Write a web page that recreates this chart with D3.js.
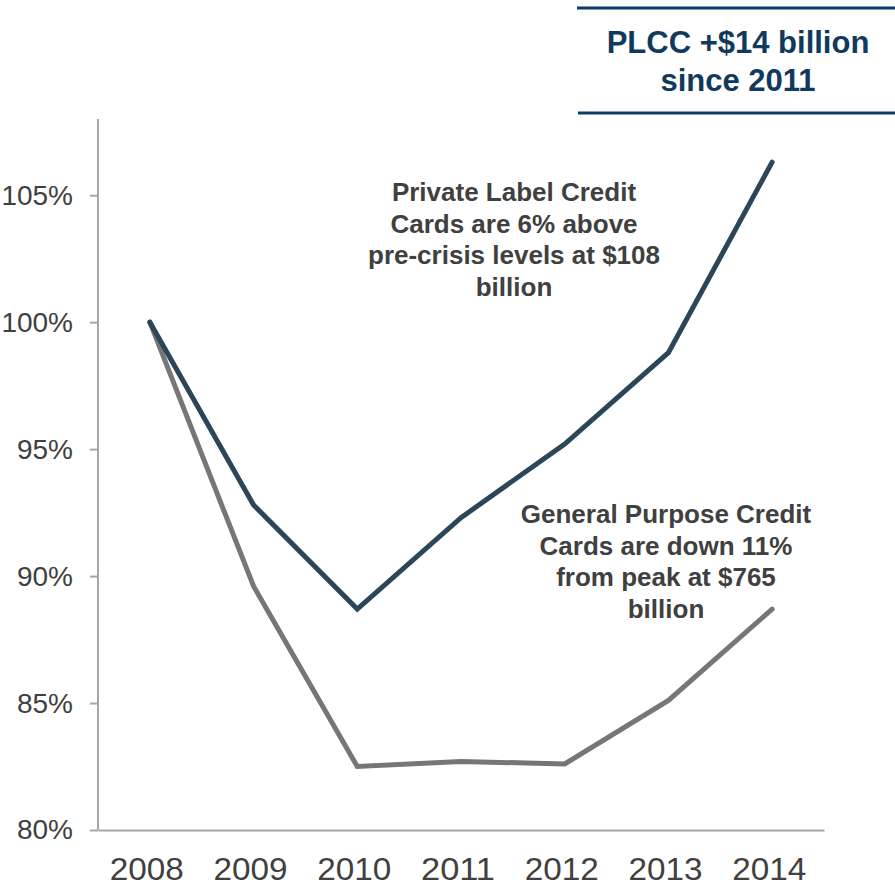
<!DOCTYPE html>
<html>
<head>
<meta charset="utf-8">
<script src="https://cdn.jsdelivr.net/npm/d3@7"></script>
<style>
  html, body { margin: 0; padding: 0; background: #fff; }
  svg { display: block; font-family: "Liberation Sans", Arial, sans-serif; }
</style>
</head>
<body>
<svg id="chart" width="895" height="887"></svg>
<script>
// Card balances indexed to 2008 = 100%
const years = ["2008", "2009", "2010", "2011", "2012", "2013", "2014"];
const plccValues = [100, 92.8, 88.7, 92.3, 95.2, 98.8, 106.3];
const generalValues = [100, 89.6, 82.5, 82.7, 82.6, 85.1, 88.7];
const yTicks = [80, 85, 90, 95, 100, 105];

const headerLines = ["PLCC +$14 billion", "since 2011"];
const plccNote = ["Private Label Credit", "Cards are 6% above", "pre-crisis levels at $108", "billion"];
const generalNote = ["General Purpose Credit", "Cards are down 11%", "from peak at $765", "billion"];

const svg = d3.select("#chart");
const axisColor = "#a6a6a6";
const textColor = "#404040";

const x = d3.scaleBand().domain(years).range([98, 824]).padding(0);
const y = d3.scaleLinear().domain([80, 108]).range([830, 119]);
const cx = d => x(d) + x.bandwidth() / 2;

// Y axis
const yAxis = svg.append("g")
  .attr("transform", "translate(98,0)")
  .call(d3.axisLeft(y).tickValues(yTicks).tickSize(8).tickPadding(17)
    .tickFormat(d => d + "%"));
yAxis.select(".domain").attr("stroke", axisColor).attr("stroke-width", 2)
  .attr("d", `M0,${y(108)}V${y(80)}`);
yAxis.selectAll(".tick line").attr("stroke", axisColor).attr("stroke-width", 2);
yAxis.selectAll(".tick text")
  .attr("fill", textColor)
  .style("font-size", "28px")
  .style("font-family", "'Liberation Sans', Arial, sans-serif");

// X axis
const xAxis = svg.append("g")
  .attr("transform", `translate(0,${y(80)})`)
  .call(d3.axisBottom(x).tickSize(0).tickPadding(0));
xAxis.select(".domain").attr("stroke", axisColor).attr("stroke-width", 2);
xAxis.selectAll(".tick text")
  .attr("fill", textColor)
  .attr("y", 50)
  .attr("dy", 0)
  .attr("x", -3)
  .attr("textLength", 74)
  .attr("lengthAdjust", "spacingAndGlyphs")
  .style("font-size", "31px")
  .style("font-family", "'Liberation Sans', Arial, sans-serif");

// Series lines
const line = d3.line()
  .x((d, i) => cx(years[i]))
  .y(d => y(d));

svg.append("path")
  .datum(generalValues)
  .attr("fill", "none")
  .attr("stroke", "#767676")
  .attr("stroke-width", 5)
  .attr("stroke-linejoin", "miter")
  .attr("stroke-linecap", "round")
  .attr("d", line);

svg.append("path")
  .datum(plccValues)
  .attr("fill", "none")
  .attr("stroke", "#2b4658")
  .attr("stroke-width", 5)
  .attr("stroke-linejoin", "miter")
  .attr("stroke-linecap", "round")
  .attr("d", line);

// Annotations
function note(lines, centerX, firstBaseline, lineGap, size, color) {
  const t = svg.append("text")
    .attr("text-anchor", "middle")
    .attr("fill", color)
    .style("font-size", size + "px")
    .style("font-weight", "bold");
  lines.forEach((s, i) => {
    t.append("tspan").attr("x", centerX).attr("y", firstBaseline + i * lineGap).text(s);
  });
}
note(plccNote, 514, 201, 31.6, 26, textColor);
note(generalNote, 666, 523, 31.7, 26, textColor);

// Header callout
const header = svg.append("g");
header.append("line").attr("x1", 577).attr("x2", 895).attr("y1", 8).attr("y2", 8)
  .attr("stroke", "#0e3a63").attr("stroke-width", 3);
header.append("line").attr("x1", 578).attr("x2", 895).attr("y1", 113).attr("y2", 113)
  .attr("stroke", "#0e3a63").attr("stroke-width", 3);
note(headerLines, 738, 53, 38, 31, "#0f3a5e");
</script>
</body>
</html>
